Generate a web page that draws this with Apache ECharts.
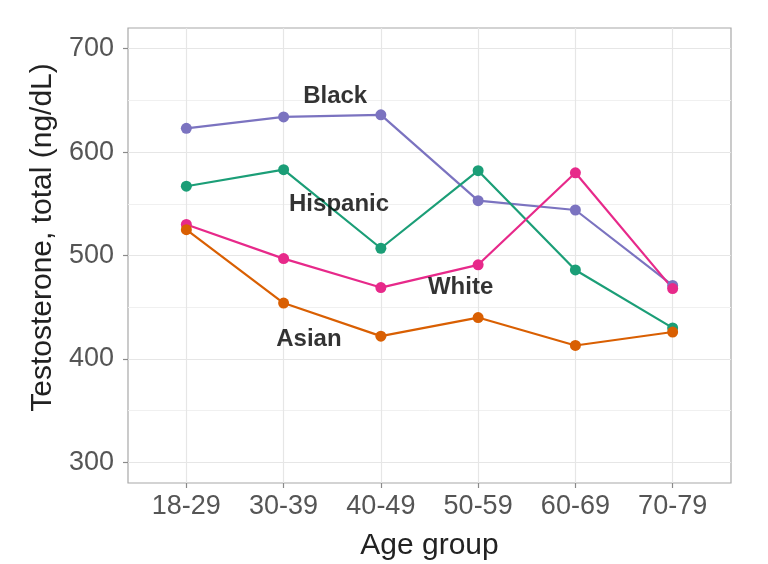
<!DOCTYPE html>
<html>
<head>
<meta charset="utf-8">
<script src="https://cdn.jsdelivr.net/npm/echarts@6/dist/echarts.min.js"></script>
<style>html,body{margin:0;padding:0;background:#fff}#c{width:768px;height:564px}</style>
</head>
<body>
<div id="c"></div>
<script>
const categories = ['18-29','30-39','40-49','50-59','60-69','70-79'];
const black    = [623, 634, 636, 553, 544, 471];
const hispanic = [567, 583, 507, 582, 486, 430];
const white    = [530, 497, 469, 491, 580, 468];
const asian    = [525, 454, 422, 440, 413, 426];
const yTicks = [300, 400, 500, 600, 700];
const yMinor = [350, 450, 550, 650];
const labelNames = ['Black', 'Hispanic', 'White', 'Asian'];
const labelX = [1.53, 1.57, 2.82, 1.26];
const labelY = [654, 549, 469, 419];

const colors = {Black:'#7B73C0', Hispanic:'#1B9E77', White:'#E7298A', Asian:'#D95F02'};
const seriesData = {Black: black, Hispanic: hispanic, White: white, Asian: asian};
const xIdx = categories.map((c, i) => i);

function lineSeries(name) {
  return {
    name: name, type: 'line',
    data: seriesData[name].map((v, i) => [i, v]),
    symbol: 'circle', symbolSize: 11,
    lineStyle: {color: colors[name], width: 2.2},
    itemStyle: {color: colors[name]},
    z: 3
  };
}

const chart = echarts.init(document.getElementById('c'), null, {renderer: 'canvas'});
chart.setOption({
  animation: false,
  backgroundColor: '#fff',
  grid: {left: 128, right: 37, top: 28, bottom: 81, show: true, outerBoundsMode: 'none', containLabel: false,
         borderColor: '#a8a8a8', borderWidth: 1.2, backgroundColor: 'transparent'},
  xAxis: {
    type: 'value', min: -0.6, max: 5.6,
    name: 'Age group', nameLocation: 'middle', nameGap: 48,
    nameTextStyle: {fontSize: 30, color: '#222', fontFamily: 'Liberation Sans'},
    axisLine: {show: false, onZero: false},
    axisTick: {show: true, customValues: xIdx, length: 5, lineStyle: {color: '#8a8a8a', width: 1.2}},
    axisLabel: {customValues: xIdx, formatter: v => categories[Math.round(v)], fontSize: 27, color: '#555', margin: 10, fontFamily: 'Liberation Sans'},
    splitLine: {show: true, lineStyle: {color: '#e6e6e6', width: 1.2}}
  },
  yAxis: [{
    type: 'value', min: 280, max: 720,
    name: 'Testosterone, total (ng/dL)', nameLocation: 'middle', nameGap: 57,
    nameTextStyle: {fontSize: 30, color: '#222', fontFamily: 'Liberation Sans', padding: [0, 0, 0, 36]},
    axisLine: {show: false, onZero: false},
    axisTick: {show: true, customValues: yTicks, length: 5, lineStyle: {color: '#8a8a8a', width: 1.2}},
    axisLabel: {customValues: yTicks, fontSize: 27, color: '#555', margin: 14, fontFamily: 'Liberation Sans'},
    splitLine: {show: true, lineStyle: {color: '#e6e6e6', width: 1.2}}
  }, {
    type: 'value', min: 280, max: 720, position: 'left',
    axisLine: {show: false, onZero: false},
    axisTick: {show: false, customValues: yMinor},
    axisLabel: {show: false, customValues: yMinor},
    splitLine: {show: true, lineStyle: {color: '#f0f0f0', width: 1}}
  }],
  series: [
    lineSeries('Black'), lineSeries('Hispanic'), lineSeries('White'), lineSeries('Asian'),
    {
      type: 'scatter', symbolSize: 0, silent: true, z: 5,
      data: labelNames.map((n, i) => ({value: [labelX[i], labelY[i]], name: n})),
      label: {show: true, position: 'inside', formatter: p => p.name, fontSize: 24, fontWeight: 'bold', color: '#000', textBorderWidth: 0, fontFamily: 'Liberation Sans'}
    }
  ]
});
</script>
</body>
</html>
